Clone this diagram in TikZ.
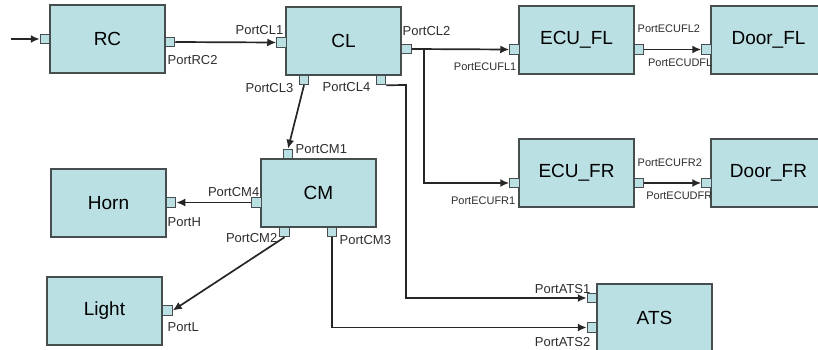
\documentclass[tikz,border=0pt]{standalone}
\usepackage{fontspec}
\setmainfont{Liberation Sans}
\usetikzlibrary{arrows.meta}
\definecolor{boxfill}{RGB}{186,224,228}
\definecolor{boxline}{RGB}{70,78,80}
\definecolor{labgray}{RGB}{45,45,45}
\begin{document}
\begin{tikzpicture}[x=1pt,y=-1pt,
  block/.style={draw=boxline,fill=boxfill,line width=1.5pt,minimum width=115pt,minimum height=68pt,inner sep=0pt,font=\fontsize{19}{21}\selectfont},
  port/.style={draw=boxline,fill=boxfill,line width=1pt,minimum size=9.5pt,inner sep=0pt},
  plabel/.style={inner sep=0.5pt,text=labgray,font=\fontsize{13}{14}\selectfont},
  slabel/.style={inner sep=0.5pt,text=labgray,font=\fontsize{11}{12}\selectfont},
  wire/.style={line width=1.7pt,draw=black!85,-{Latex[length=9pt,width=8pt]}}]
  \useasboundingbox (0,0) rectangle (818,350);
  \clip (0,0) rectangle (818,350);
  % blocks
  \foreach \name/\x/\y/\txt in {RC/107.5/39/RC, CL/343.5/41/CL, ECUFL/576.5/40/ECU\_FL, DoorFL/768.5/40/Door\_FL,
      ECUFR/576.5/173/ECU\_FR, DoorFR/768.5/173/Door\_FR, CM/318.5/193/CM, Horn/108.5/203/Horn,
      Light/104.5/311/Light, ATS/654.5/318/ATS}
    \node[block] (\name) at (\x,\y) {\txt};
  % ports
  \foreach \name/\x/\y in {pIn/45/39, pRC2/170/42, pCL1/281.5/42.5, pCL2/406.5/49, pCL3/304/80, pCL4/381/80,
      pECUFL1/514.5/49.5, pECUFL2/639/49.5, pECUDFL/706.5/49.5, pECUFR1/514.5/183, pECUFR2/639/183,
      pECUDFR/706.5/183, pCM1/288/154, pCM4/256.5/202.5, pCM2/284.5/232, pCM3/332/232,
      pH/171/202.5, pL/167.5/310.5, pATS1/592/298, pATS2/592/327.5}
    \node[port] (\name) at (\x,\y) {};
  % port names
  \node[plabel,anchor=west] (lRC2) at (167,60) {PortRC2};
  \node[plabel,anchor=east] (lCL1) at (284,30) {PortCL1};
  \node[plabel,anchor=west] (lCL2) at (402,31) {PortCL2};
  \node[plabel,anchor=east] (lCL3) at (294,88) {PortCL3};
  \node[plabel,anchor=east] (lCL4) at (371,87) {PortCL4};
  \node[plabel,anchor=west] (lCM1) at (295,149) {PortCM1};
  \node[plabel,anchor=east] (lCM4) at (260,192) {PortCM4};
  \node[plabel,anchor=west] (lH) at (167,222) {PortH};
  \node[plabel,anchor=east] (lCM2) at (278,238) {PortCM2};
  \node[plabel,anchor=west] (lCM3) at (339,240) {PortCM3};
  \node[plabel,anchor=west] (lL) at (167,327) {PortL};
  \node[slabel,anchor=east] (lECUFL1) at (517,67) {PortECUFL1};
  \node[slabel,anchor=west] (lECUFL2) at (637,29) {PortECUFL2};
  \node[slabel,anchor=east] (lECUDFL) at (713,63) {PortECUDFL};
  \node[slabel,anchor=east] (lECUFR1) at (516,201) {PortECUFR1};
  \node[slabel,anchor=west] (lECUFR2) at (637,163) {PortECUFR2};
  \node[slabel,anchor=east] (lECUDFR) at (713,196) {PortECUDFR};
  \node[plabel,anchor=east] (lATS1) at (591,289) {PortATS1};
  \node[plabel,anchor=east] (lATS2) at (591,342) {PortATS2};
  % connections
  \coordinate (in) at (11,39);
  \coordinate (split) at (424,49);
  \coordinate (bend) at (406,85);
  \draw[wire] (in) -- (pIn.west);
  \draw[wire] (pRC2.east) -- (pCL1.west);
  \draw[wire] (pCL2.east) -- (pECUFL1.west);
  \draw[wire] (split) |- (pECUFR1.west);
  \draw[wire] (pECUFL2.east) -- (pECUDFL.west);
  \draw[wire] (pECUFR2.east) -- (pECUDFR.west);
  \draw[wire] (pCL3.south) -- (pCM1.north);
  \draw[wire] (pCL4.south east) -- (bend) |- (pATS1.west);
  \draw[wire] (pCM4.west) -- (pH.east);
  \draw[wire] (pCM2.south) -- (pL.east);
  \draw[wire] (pCM3.south) |- (pATS2.west);
\end{tikzpicture}
\end{document}
